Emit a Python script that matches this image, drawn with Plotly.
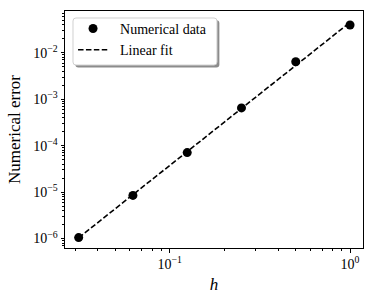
import numpy as np
import plotly.graph_objects as go

h_values = [1/32, 1/16, 1/8, 1/4, 1/2, 1.0]
errors = [1.05e-6, 8.5e-6, 7.1e-5, 6.5e-4, 6.4e-3, 3.95e-2]

x_tickvals = [0.1, 1.0]
x_ticktext = ["10<sup>−1</sup>", "10<sup>0</sup>"]
y_tickvals = [1e-6, 1e-5, 1e-4, 1e-3, 1e-2]
y_ticktext = ["10<sup>−6</sup>", "10<sup>−5</sup>", "10<sup>−4</sup>", "10<sup>−3</sup>", "10<sup>−2</sup>"]

# linear fit in log-log space
coef = np.polyfit(np.log10(h_values), np.log10(errors), 1)
fit_vals = [10 ** (coef[0] * np.log10(h) + coef[1]) for h in h_values]

x_minor = [m * 10.0 ** e for e in (-2, -1, 0) for m in range(2, 10)]
y_minor = [m * 10.0 ** e for e in range(-7, -1) for m in range(2, 10)]

FONT = "Liberation Serif"
NB = "\u00a0\u00a0"


def rounded_rect(x0, y0, x1, y1, rx=0.010, ry=0.0127):
    return (f"M {x0+rx},{y0} L {x1-rx},{y0} Q {x1},{y0} {x1},{y0+ry} "
            f"L {x1},{y1-ry} Q {x1},{y1} {x1-rx},{y1} "
            f"L {x0+rx},{y1} Q {x0},{y1} {x0},{y1-ry} "
            f"L {x0},{y0+ry} Q {x0},{y0} {x0+rx},{y0} Z")


fig = go.Figure()
fig.add_trace(go.Scatter(
    x=h_values, y=errors, mode="markers", name=NB + "Numerical data",
    marker=dict(color="black", size=9, line=dict(width=0)),
))
fig.add_trace(go.Scatter(
    x=h_values, y=fit_vals, mode="lines", name=NB + "Linear fit",
    line=dict(color="black", width=1.6, dash="5.5px,2.4px"),
))

axis_common = dict(
    type="log", showgrid=False, zeroline=False, automargin=False,
    showline=True, linecolor="black", linewidth=1, mirror=True,
    ticks="outside", ticklen=3.5, tickwidth=1, tickcolor="black",
    tickmode="array",
    tickfont=dict(family=FONT, size=14, color="black"),
)

fig.update_layout(
    width=374, height=299,
    margin=dict(l=65, r=11, t=11, b=51),
    paper_bgcolor="white", plot_bgcolor="white",
    font=dict(family=FONT, color="black", size=14),
    showlegend=True,
    legend=dict(
        x=0.027, y=0.992, xanchor="left", yanchor="top",
        bgcolor="rgba(0,0,0,0)", borderwidth=0,
        font=dict(family=FONT, size=14, color="black"),
        tracegroupgap=0, itemwidth=30,
    ),
    xaxis=dict(axis_common, range=[np.log10(0.02625), np.log10(1.18)],
               tickvals=x_tickvals, ticktext=x_ticktext,
               minor=dict(tickmode="array", tickvals=x_minor, ticks="outside",
                          ticklen=2, tickwidth=0.8, tickcolor="black", showgrid=False),
               title=dict(text="<i>h</i>", font=dict(family=FONT, size=17), standoff=6)),
    yaxis=dict(axis_common, range=[-6.203, -1.101],
               tickvals=y_tickvals, ticktext=y_ticktext,
               minor=dict(tickmode="array", tickvals=y_minor, ticks="outside",
                          ticklen=2, tickwidth=0.8, tickcolor="black", showgrid=False),
               title=dict(text="Numerical error", font=dict(family=FONT, size=17), standoff=8)),
    shapes=[
        dict(type="path", xref="paper", yref="paper",
             path=rounded_rect(0.0268 + 0.008, 0.772 - 0.010, 0.510 + 0.008, 0.9705 - 0.010),
             fillcolor="#8c8c8c", line=dict(width=0), layer="above"),
        dict(type="path", xref="paper", yref="paper",
             path=rounded_rect(0.0268, 0.772, 0.510, 0.9705),
             fillcolor="white", line=dict(color="#d0d0d0", width=1), layer="above"),
    ],
)

fig.write_html("out.html", config={"displayModeBar": False},
               post_script="document.body.style.margin='0px';")
